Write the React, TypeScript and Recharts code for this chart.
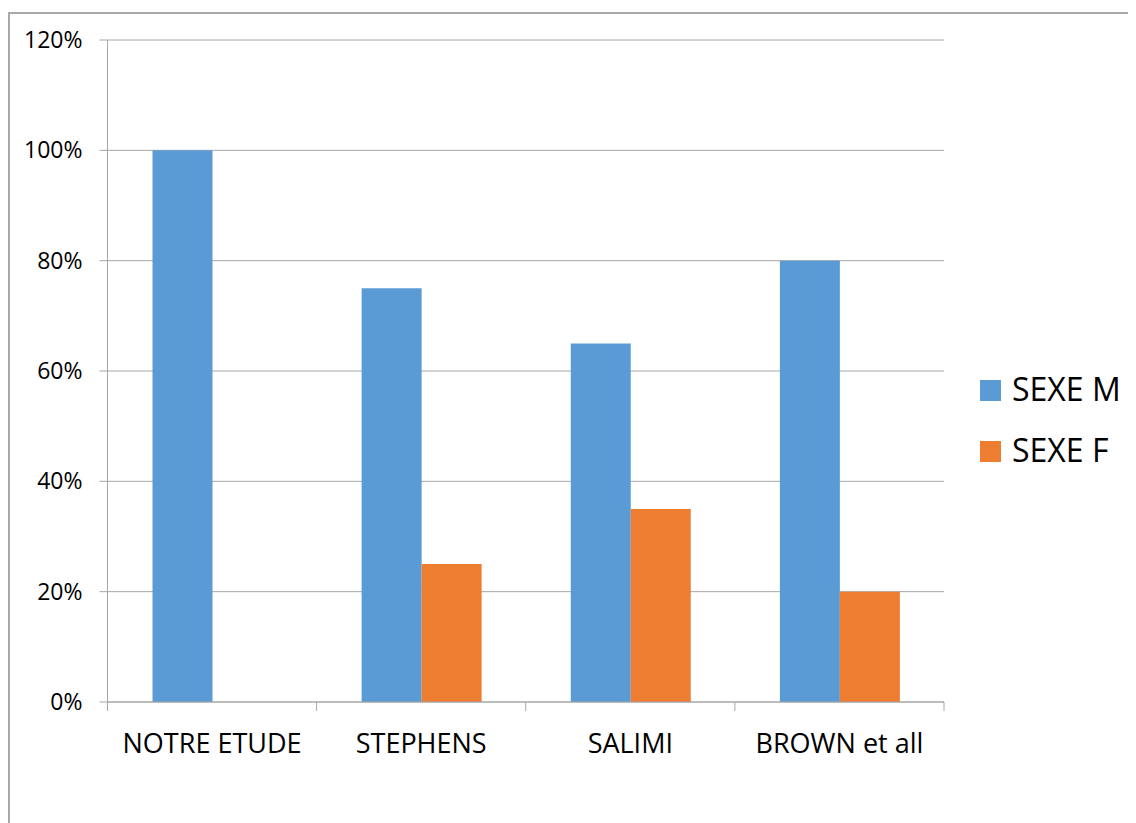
import { BarChart, Bar, XAxis, YAxis, CartesianGrid, Legend } from "recharts";

const categories = ["NOTRE ETUDE", "STEPHENS", "SALIMI", "BROWN et all"];
const seriesNames = ["SEXE M", "SEXE F"];
const sexeM = [1.0, 0.75, 0.65, 0.8];
const sexeF = [0, 0.25, 0.35, 0.2];
const yTicks = [0, 0.2, 0.4, 0.6, 0.8, 1.0, 1.2];

const data = categories.map((name, i) => ({
  name,
  "SEXE M": sexeM[i],
  "SEXE F": sexeF[i],
}));

const W = 1128;
const H = 815;
const X_AXIS_H = 60;
const MARGIN = { top: 32, right: 192, bottom: 121 - X_AXIS_H, left: 0 };
const Y_AXIS_W = 99.5;
const PLOT_W = W - MARGIN.left - MARGIN.right - Y_AXIS_W;
const HALF_BAND = PLOT_W / categories.length / 2;
const GRID = "#A6A6A6";
const FONT = "'Open Sans', sans-serif";

// tick marks sit on the category boundaries, like Excel
function XTick(props: any) {
  const { x, y, payload, index } = props;
  return (
    <g>
      <line x1={x - HALF_BAND} x2={x - HALF_BAND} y1={y} y2={y + 9} stroke={GRID} strokeWidth={1} />
      {index === categories.length - 1 && (
        <line x1={x + HALF_BAND} x2={x + HALF_BAND} y1={y} y2={y + 9} stroke={GRID} strokeWidth={1} />
      )}
      <text x={x} y={y + 32} dy="0.71em" textAnchor="middle" fill="#000" fontSize={27} fontFamily={FONT}>
        {payload.value}
      </text>
    </g>
  );
}

function LegendBox(props: any) {
  const items = [...(props.payload || [])].sort(
    (a: any, b: any) => seriesNames.indexOf(a.value) - seriesNames.indexOf(b.value)
  );
  return (
    <div style={{ fontFamily: FONT }}>
      {items.map((p: any) => (
        <div key={p.value} style={{ display: "flex", alignItems: "center", height: 61 }}>
          <span style={{ width: 21, height: 21, background: p.color, display: "inline-block", marginRight: 11 }} />
          <span style={{ fontSize: 32, color: "#000", lineHeight: "32px", marginTop: -3 }}>{p.value}</span>
        </div>
      ))}
    </div>
  );
}

export default function App() {
  return (
    <div style={{ position: "relative", width: W, height: H, background: "#fff" }}>
      <div
        style={{
          position: "absolute",
          left: 0,
          top: 4,
          width: W + 20,
          height: H + 20,
          borderLeft: "2px solid #A8A8A8",
          borderTop: "2px solid #A8A8A8",
          pointerEvents: "none",
        }}
      />
      <BarChart
        width={W}
        height={H}
        data={data}
        margin={MARGIN}
        barCategoryGap={45}
        barGap={0}
      >
        <CartesianGrid vertical={false} stroke={GRID} strokeWidth={1} />
        <XAxis
          dataKey="name"
          height={X_AXIS_H}
          axisLine={{ stroke: GRID }}
          tickLine={false}
          tickSize={0}
          tickMargin={0}
          tick={<XTick />}
          interval={0}
        />
        <YAxis
          width={Y_AXIS_W}
          domain={[0, 1.2]}
          ticks={yTicks}
          interval={0}
          axisLine={{ stroke: GRID }}
          tickLine={{ stroke: GRID }}
          tickSize={8}
          tickMargin={17}
          tickFormatter={(v: number) => `${Math.round(v * 100)}%`}
          tick={{ fill: "#000", fontSize: 23, fontFamily: FONT }}
        />
        <Legend
          layout="vertical"
          align="center"
          verticalAlign="middle"
          wrapperStyle={{ left: 972, top: 352, width: 156 }}
          content={<LegendBox />}
        />
        <Bar dataKey="SEXE M" fill="#5B9BD5" isAnimationActive={false} />
        <Bar dataKey="SEXE F" fill="#ED7D31" isAnimationActive={false} />
      </BarChart>
    </div>
  );
}
